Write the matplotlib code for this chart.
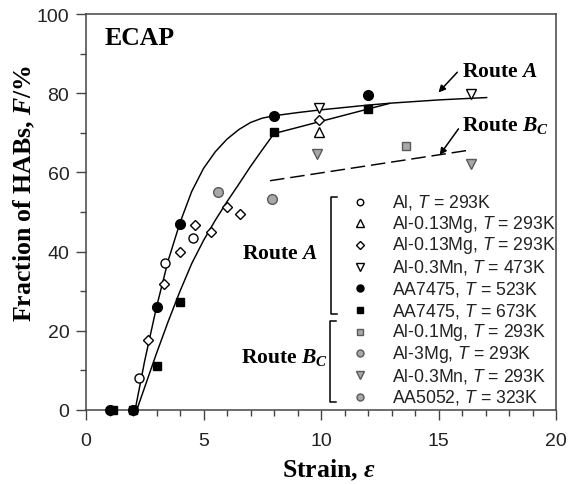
import numpy as np
import matplotlib
matplotlib.use("Agg")
import matplotlib.pyplot as plt
from matplotlib.ticker import MultipleLocator

plt.rcParams['font.family'] = ['Liberation Sans', 'DejaVu Sans']
plt.rcParams['mathtext.fontset'] = 'custom'
plt.rcParams['mathtext.rm'] = 'Liberation Serif:bold'
plt.rcParams['mathtext.bf'] = 'Liberation Serif:bold'
plt.rcParams['mathtext.it'] = 'Liberation Serif:bold:italic'
plt.rcParams['mathtext.sf'] = 'Liberation Sans:italic'

# ---- data (strain, fraction of HABs %) ----
# Route A
al_293_x = [2.25, 3.35, 4.55]
al_293_y = [8.0, 37.0, 43.5]
mg013_tri_x = [9.9]
mg013_tri_y = [70.3]
mg013_dia_x = [2.65, 3.3, 4.0, 4.65, 5.3, 6.0, 6.55, 9.9]
mg013_dia_y = [17.7, 31.8, 40.0, 46.7, 45.0, 51.3, 49.5, 73.3]
mn03_473_x = [9.9, 16.4]
mn03_473_y = [76.2, 79.8]
aa7475_523_x = [1.0, 2.0, 3.0, 4.0, 8.0, 12.0]
aa7475_523_y = [0.0, 0.0, 26.0, 47.0, 74.3, 79.5]
aa7475_673_x = [1.15, 2.0, 3.0, 4.0, 8.0, 12.0]
aa7475_673_y = [0.0, 0.0, 11.0, 27.2, 70.1, 76.0]
# Route Bc
mg01_x = [13.6]
mg01_y = [66.7]
mg3_x = [7.9]
mg3_y = [53.3]
mn03_293_x = [9.85, 16.4]
mn03_293_y = [64.6, 62.1]
aa5052_x = [5.6]
aa5052_y = [55.1]

# trend lines
upper_x = [2.09, 2.5, 3.0, 3.5, 4.0, 4.5, 5.0, 5.5, 6.0, 6.5, 7.0, 7.5, 8.0,
           9.0, 10.0, 11.0, 12.0, 13.0, 14.0, 15.0, 16.0, 17.05]
upper_y = [0.0, 12.5, 26.0, 37.8, 47.3, 55.2, 61.0, 65.2, 68.4, 70.8, 72.6, 73.7, 74.3,
           75.1, 75.8, 76.4, 77.0, 77.5, 77.9, 78.3, 78.6, 78.9]
lower_x = [2.16, 2.5, 3.0, 3.5, 4.0, 4.5, 5.0, 5.5, 6.0, 6.5, 7.0, 7.5, 8.0, 12.0, 12.9]
lower_y = [0.0, 5.8, 14.3, 22.4, 30.0, 37.0, 42.8, 47.9, 52.6, 57.0, 61.5, 65.7, 69.8, 76.0, 77.4]
bc_x = [7.83, 16.4]
bc_y = [57.9, 65.7]

route_a_labels = ["Al, $\\mathsf{T}$ = 293K", "Al-0.13Mg, $\\mathsf{T}$ = 293K",
                  "Al-0.13Mg, $\\mathsf{T}$ = 293K", "Al-0.3Mn, $\\mathsf{T}$ = 473K",
                  "AA7475, $\\mathsf{T}$ = 523K", "AA7475, $\\mathsf{T}$ = 673K"]
route_bc_labels = ["Al-0.1Mg, $\\mathsf{T}$ = 293K", "Al-3Mg, $\\mathsf{T}$ = 293K",
                   "Al-0.3Mn, $\\mathsf{T}$ = 293K", "AA5052, $\\mathsf{T}$ = 323K"]

open_kw = dict(mfc='white', mec='black', mew=1.0, ls='none')
gray_kw = dict(mfc='#a8a8a8', mec='#5a5a5a', mew=1.0, ls='none')
black_kw = dict(mfc='black', mec='black', mew=1.0, ls='none')

series = [
    (al_293_x, al_293_y, 'o', 6.5, open_kw),
    (mg013_tri_x, mg013_tri_y, '^', 7.5, open_kw),
    (mg013_dia_x, mg013_dia_y, 'D', 5.5, open_kw),
    (mn03_473_x, mn03_473_y, 'v', 7.5, open_kw),
    (aa7475_523_x, aa7475_523_y, 'o', 7, black_kw),
    (aa7475_673_x, aa7475_673_y, 's', 6, black_kw),
    (mg01_x, mg01_y, 's', 6, gray_kw),
    (mg3_x, mg3_y, 'o', 7, gray_kw),
    (mn03_293_x, mn03_293_y, 'v', 7.5, gray_kw),
    (aa5052_x, aa5052_y, 'o', 7, gray_kw),
]

fig = plt.figure(figsize=(5.78, 4.85), dpi=100)
ax = fig.add_axes([86/578, 1 - 411/485, 470/578, 396/485])

ax.plot(upper_x, upper_y, color='black', lw=1.05, zorder=2)
ax.plot(lower_x, lower_y, color='black', lw=1.05, zorder=2)
ax.plot(bc_x, bc_y, color='black', lw=1.05, dashes=(10, 4), zorder=2)

for xs, ys, m, ms, kw in series:
    ax.plot(xs, ys, marker=m, ms=ms, zorder=3, clip_on=False, **kw)

ax.set_xlim(0, 20)
ax.set_ylim(0, 100)
ax.xaxis.set_major_locator(MultipleLocator(5))
ax.xaxis.set_minor_locator(MultipleLocator(1))
ax.yaxis.set_major_locator(MultipleLocator(20))
ax.yaxis.set_minor_locator(MultipleLocator(10))
ax.tick_params(which='both', direction='out', top=False, right=False,
               color='#444444', labelcolor='#222222', labelsize=14)
ax.tick_params(which='major', length=7, width=1)
ax.tick_params(which='minor', length=4, width=1)
ax.tick_params(axis='x', pad=9)
ax.tick_params(axis='y', pad=5)
for s in ax.spines.values():
    s.set_color('#444444')
    s.set_linewidth(1.1)

ax.set_xlabel("Strain, $\\varepsilon$", family='Liberation Serif', weight='bold',
              fontsize=18.5)
ax.xaxis.set_label_coords(0.517, -0.119)
ax.set_ylabel("Fraction of HABs, $F$/%", family='Liberation Serif', weight='bold',
              fontsize=18.5)
ax.yaxis.set_label_coords(-0.104, 0.55)

ax.text(0.04, 0.94, "ECAP", transform=ax.transAxes, family='Liberation Serif',
        weight='bold', fontsize=18.5, va='center', ha='left')

# route annotations
ax.annotate('', xy=(15.0, 80.2), xytext=(15.8, 85.3),
            arrowprops=dict(arrowstyle='-|>', color='black', lw=1.1,
                            mutation_scale=10, shrinkA=0, shrinkB=0))
ax.text(16.0, 85.7, "Route $A$", family='Liberation Serif', weight='bold',
        fontsize=15.5, va='center', ha='left')
ax.annotate('', xy=(15.05, 64.4), xytext=(15.85, 71.0),
            arrowprops=dict(arrowstyle='-|>', color='black', lw=1.1,
                            mutation_scale=10, shrinkA=0, shrinkB=0))
ax.text(16.0, 72.0, "Route $B_C$", family='Liberation Serif', weight='bold',
        fontsize=15.5, va='center', ha='left')

# hand-made legend with brackets
mx, tx = 0.583, 0.651
y0, dy = 0.5265, 0.0548
labels = route_a_labels + route_bc_labels
for i, ((xs, ys, m, ms, kw), lab) in enumerate(zip(series, labels)):
    yy = y0 - i * dy
    ax.plot([mx], [yy], marker=m, ms=ms * 0.72, transform=ax.transAxes,
            clip_on=False, **kw)
    ax.text(tx, yy, lab, transform=ax.transAxes, fontsize=12.7,
            va='center', ha='left', color='#222222')

def bracket(x, ytop, ybot, w=0.013):
    ax.plot([x + w, x, x, x + w], [ytop, ytop, ybot, ybot], color='black',
            lw=1.1, transform=ax.transAxes, clip_on=False)

bracket(0.521, 0.538, 0.242)
bracket(0.519, 0.225, 0.020)
ax.text(0.494, 0.384, "Route $A$", transform=ax.transAxes, family='Liberation Serif',
        weight='bold', fontsize=15.5, va='baseline', ha='right')
ax.text(0.515, 0.121, "Route $B_C$", transform=ax.transAxes, family='Liberation Serif',
        weight='bold', fontsize=15.5, va='baseline', ha='right')

fig.savefig("out.png", dpi=100)
